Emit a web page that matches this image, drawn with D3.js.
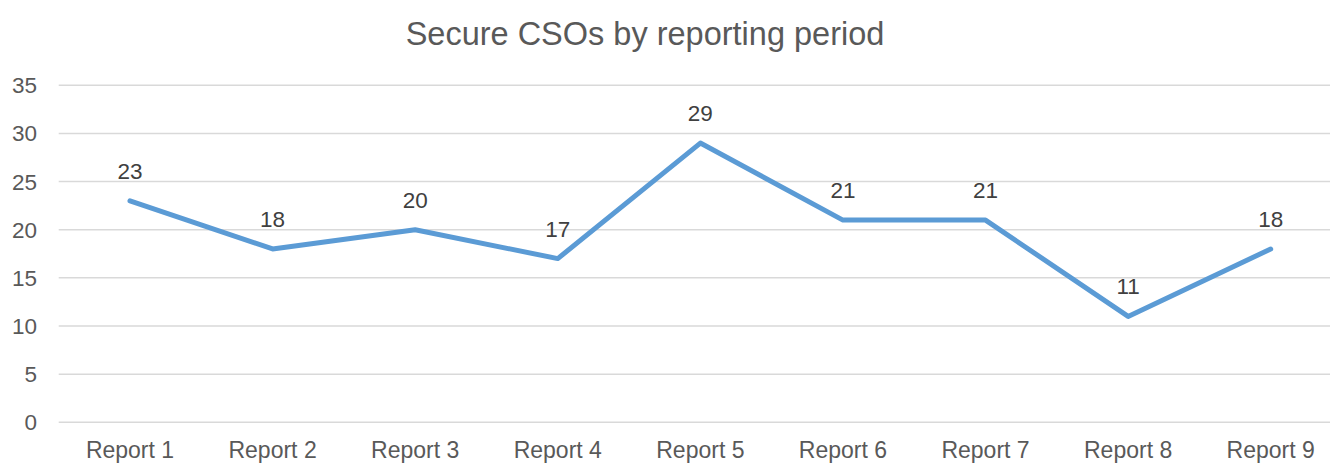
<!DOCTYPE html>
<html>
<head>
<meta charset="utf-8">
<script src="https://cdn.jsdelivr.net/npm/d3@7"></script>
<style>
  body { margin: 0; background: #fff; }
  svg { display: block; font-family: "Liberation Sans", Arial, sans-serif; }
</style>
</head>
<body>
<div id="chart"></div>
<script>
document.addEventListener("DOMContentLoaded", function() {

const categories = ["Report 1", "Report 2", "Report 3", "Report 4", "Report 5", "Report 6", "Report 7", "Report 8", "Report 9"];
const values = [23, 18, 20, 17, 29, 21, 21, 11, 18];
const yTicks = [0, 5, 10, 15, 20, 25, 30, 35];
const title = "Secure CSOs by reporting period";

const width = 1330;
const height = 463;

const svg = d3.select("#chart")
  .append("svg")
  .attr("width", width)
  .attr("height", height);

// the plot area runs past the right edge of the picture (it was cropped)
const x = d3.scaleBand()
  .domain(categories)
  .range([58.7, 1342]);

const y = d3.scaleLinear()
  .domain([0, 35])
  .range([422.3, 85.3]);

// Título
svg.append("text")
  .attr("x", 645)
  .attr("y", 45)
  .attr("text-anchor", "middle")
  .attr("font-size", "32.5px")
  .attr("fill", "#595959")
  .text(title);

// gridlines
svg.append("g")
  .selectAll("line")
  .data(yTicks)
  .join("line")
  .attr("x1", x.range()[0])
  .attr("x2", width)
  .attr("y1", d => y(d))
  .attr("y2", d => y(d))
  .attr("stroke", "#d9d9d9")
  .attr("stroke-width", 1.5);

// y labels
svg.append("g")
  .selectAll("text")
  .data(yTicks)
  .join("text")
  .attr("x", 37)
  .attr("y", d => y(d) + 8)
  .attr("text-anchor", "end")
  .attr("font-size", "22.5px")
  .attr("fill", "#595959")
  .text(d => d);

// x labels
svg.append("g")
  .selectAll("text")
  .data(categories)
  .join("text")
  .attr("x", d => x(d) + x.bandwidth() / 2)
  .attr("y", 458)
  .attr("text-anchor", "middle")
  .attr("font-size", "23px")
  .attr("fill", "#595959")
  .text(d => d);

const line = d3.line()
  .x((d, i) => x(categories[i]) + x.bandwidth() / 2)
  .y(d => y(d));

svg.append("path")
  .datum(values)
  .attr("d", line)
  .attr("fill", "none")
  .attr("stroke", "#5b9bd5")
  .attr("stroke-width", 5)
  .attr("stroke-linejoin", "round")
  .attr("stroke-linecap", "round");

// data labels
svg.append("g")
  .selectAll("text")
  .data(values)
  .join("text")
  .attr("x", (d, i) => x(categories[i]) + x.bandwidth() / 2)
  .attr("y", d => y(d) - 22)
  .attr("text-anchor", "middle")
  .attr("font-size", "22.5px")
  .attr("fill", "#404040")
  .text(d => d);

});
</script>
</body>
</html>
